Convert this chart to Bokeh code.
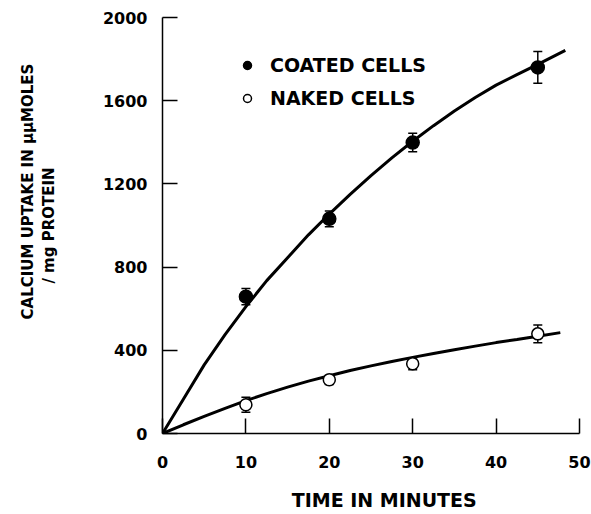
import numpy as np
from bokeh.plotting import figure
from bokeh.models import (ColumnDataSource, Whisker, TeeHead, Legend,
                          LegendItem, FixedTicker, LinearAxis)
from bokeh.embed import file_html
from bokeh.resources import INLINE

# ---- data ----
time_points = [10, 20, 30, 45]
coated_mean = [658, 1032, 1399, 1760]
coated_err = [39, 38, 45, 76]
naked_mean = [138, 258, 335, 479]
naked_err = [36, 22, 28, 43]

coated_curve_t = [0, 2.5, 5, 7.5, 10, 12.5, 15, 17.5, 20, 22.5, 25, 27.5,
                  30, 32.5, 35, 37.5, 40, 42.5, 45, 48.3]
coated_curve = [0, 165, 330, 475, 610, 735, 845, 955, 1055, 1150, 1240, 1325,
                1405, 1480, 1550, 1615, 1675, 1725, 1775, 1842]
naked_curve_t = [0, 2.5, 5, 7.5, 10, 12.5, 15, 17.5, 20, 22.5, 25, 27.5,
                 30, 32.5, 35, 37.5, 40, 42.5, 45, 47.7]
naked_curve = [0, 42, 82, 121, 158, 192, 223, 252, 278, 303, 325, 346,
               366, 385, 403, 420, 437, 452, 468, 485]

x_ticks = [0, 10, 20, 30, 40, 50]
y_ticks = [0, 400, 800, 1200, 1600, 2000]

FONT = "DejaVu Sans"
NBSP = "\u00a0"

p = figure(width=591, height=514, x_range=(0, 50), y_range=(0, 2000),
           output_backend="svg", toolbar_location=None,
           min_border_left=162, min_border_right=12,
           min_border_top=17, min_border_bottom=81)
p.outline_line_color = None
p.xgrid.visible = False
p.ygrid.visible = False
p.background_fill_color = "white"
p.border_fill_color = "white"

for ax in (p.xaxis[0], p.yaxis[0]):
    ax.major_tick_in = 15
    ax.major_tick_out = 0
    ax.minor_tick_line_color = None
    ax.axis_line_width = 1.5
    ax.major_tick_line_width = 1.5
    ax.axis_line_color = "black"
    ax.major_tick_line_color = "black"
    ax.major_label_text_font = FONT
    ax.major_label_text_font_size = "16px"
    ax.major_label_text_font_style = "bold"
    ax.major_label_text_color = "black"

p.xaxis.ticker = FixedTicker(ticks=x_ticks)
p.yaxis.ticker = FixedTicker(ticks=y_ticks)
p.xaxis.major_label_standoff = 22
p.yaxis.major_label_standoff = 15
p.xaxis.axis_label = NBSP * 4 + "TIME IN MINUTES"
p.xaxis.axis_label_text_font = FONT
p.xaxis.axis_label_text_font_size = "19px"
p.xaxis.axis_label_text_font_style = "bold"
p.xaxis.axis_label_text_color = "black"
p.xaxis.axis_label_standoff = 18

# y title: second line on main axis, first line on an outer label-only axis
p.yaxis.axis_label = "/ mg PROTEIN"
p.yaxis.axis_label_text_font = FONT
p.yaxis.axis_label_text_font_size = "15px"
p.yaxis.axis_label_text_font_style = "bold"
p.yaxis.axis_label_text_color = "black"
p.yaxis.axis_label_standoff = 42

outer = LinearAxis(ticker=FixedTicker(ticks=[]), axis_line_color=None,
                   major_tick_line_color=None, minor_tick_line_color=None,
                   major_tick_in=0, major_tick_out=0, minor_tick_in=0,
                   minor_tick_out=0, major_label_standoff=0,
                   axis_label=NBSP * 13 + "CALCIUM UPTAKE IN μμMOLES",
                   axis_label_text_font=FONT, axis_label_text_font_size="15px",
                   axis_label_text_font_style="bold",
                   axis_label_text_color="black", axis_label_standoff=0)
p.add_layout(outer, "left")

# curves
p.line(coated_curve_t, coated_curve, line_color="black", line_width=3)
p.line(naked_curve_t, naked_curve, line_color="black", line_width=3)

# error bars
src_c = ColumnDataSource(dict(x=time_points,
                              lower=[m - e for m, e in zip(coated_mean, coated_err)],
                              upper=[m + e for m, e in zip(coated_mean, coated_err)]))
src_n = ColumnDataSource(dict(x=time_points,
                              lower=[m - e for m, e in zip(naked_mean, naked_err)],
                              upper=[m + e for m, e in zip(naked_mean, naked_err)]))
for src in (src_c, src_n):
    p.add_layout(Whisker(base="x", lower="lower", upper="upper", source=src,
                         line_color="black", line_width=1.5,
                         upper_head=TeeHead(size=9, line_width=1.5, line_color="black"),
                         lower_head=TeeHead(size=9, line_width=1.5, line_color="black")))

r_c = p.scatter(time_points, coated_mean, size=13, marker="circle",
                fill_color="black", line_color="black", line_width=1.5)
r_n = p.scatter(time_points, naked_mean, size=12, marker="circle",
                fill_color="white", line_color="black", line_width=1.5)

legend = Legend(items=[LegendItem(label="COATED CELLS", renderers=[r_c]),
                       LegendItem(label="NAKED CELLS", renderers=[r_n])],
                location=(75, 324), orientation="vertical",
                background_fill_alpha=0, border_line_color=None,
                padding=0, margin=0, spacing=11,
                glyph_width=20, glyph_height=20, label_height=20,
                label_standoff=13,
                label_text_font=FONT, label_text_font_size="19px",
                label_text_font_style="bold", label_text_color="black")
p.add_layout(legend)

open("out.html", "w").write(file_html(p, INLINE))
